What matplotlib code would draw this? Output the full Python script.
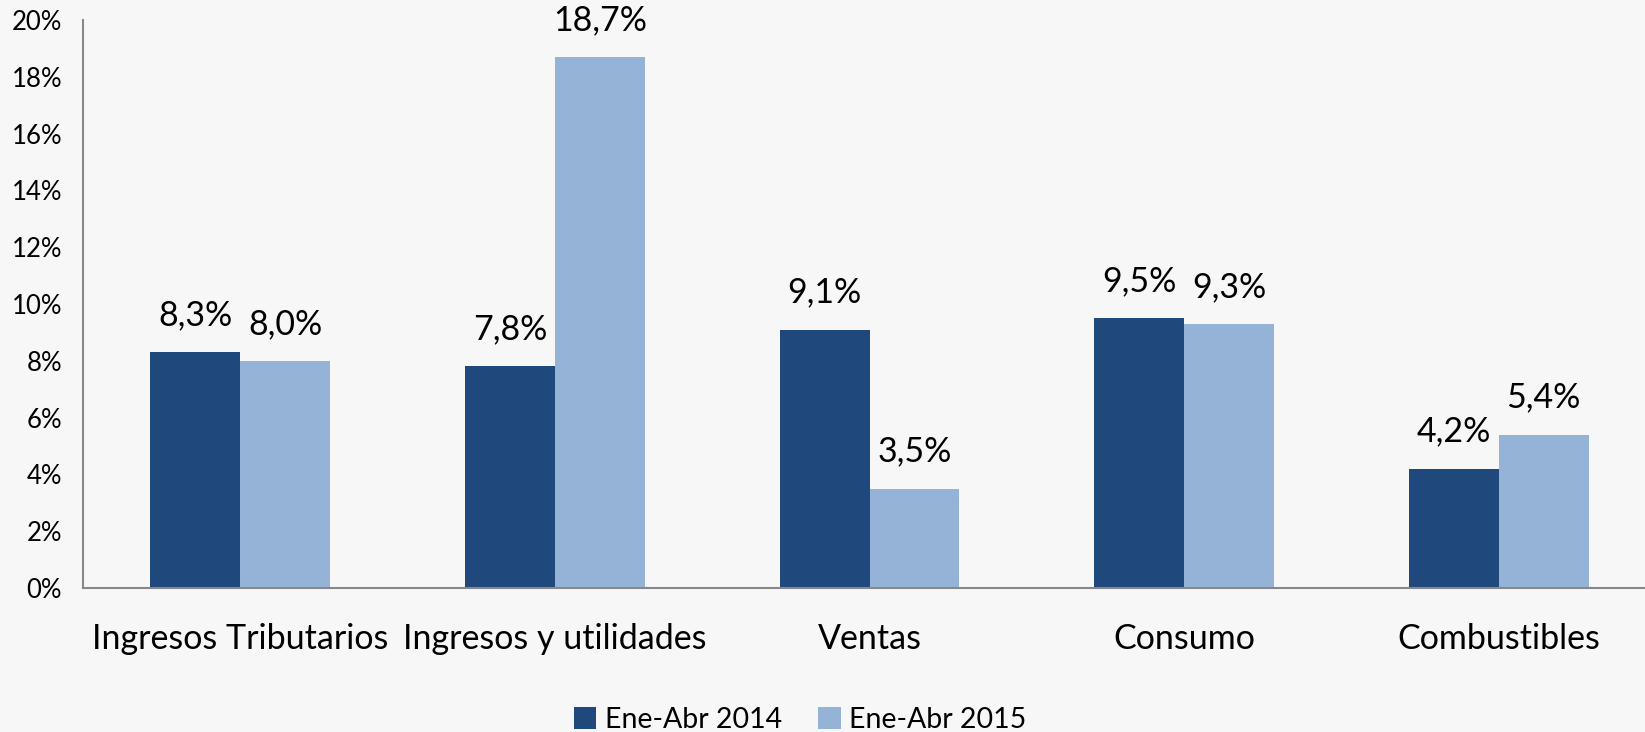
import numpy as np
from matplotlib import pyplot as plt

categorias = ["Ingresos Tributarios", "Ingresos y utilidades", "Ventas", "Consumo", "Combustibles"]
serie_2014 = [8.3, 7.8, 9.1, 9.5, 4.2]
serie_2015 = [8.0, 18.7, 3.5, 9.3, 5.4]
nombres = ["Ene-Abr 2014", "Ene-Abr 2015"]
yticks = list(range(0, 21, 2))


def main():
    plt.rcParams['font.family'] = ['Lato', 'DejaVu Sans']
    fig = plt.figure(figsize=(16.45, 7.32), dpi=100)
    fig.patch.set_facecolor('#f7f7f7')
    # axes runs slightly past the right edge, as in the original
    ax = fig.add_axes([83 / 1645, 1 - 588 / 732, 1573 / 1645, 568 / 732])
    ax.set_facecolor('none')

    x = np.arange(len(categorias))
    w = 0.286
    b1 = ax.bar(x - w / 2, serie_2014, w, color='#1f497d', label=nombres[0])
    b2 = ax.bar(x + w / 2, serie_2015, w, color='#95b3d7', label=nombres[1])

    for bars in (b1, b2):
        for r in bars:
            v = r.get_height()
            ax.annotate(f"{v:.1f}".replace('.', ',') + '%',
                        (r.get_x() + r.get_width() / 2, v),
                        xytext=(0, 37), textcoords='offset pixels',
                        ha='center', va='center', fontsize=24.5, color='black')

    ax.set_xlim(-0.5, 4.5)
    ax.set_ylim(0, 20)
    ax.set_yticks(yticks)
    ax.set_yticklabels([f"{t}%" for t in yticks], fontsize=18.5)
    ax.set_xticks(x)
    ax.set_xticklabels(categorias, fontsize=24.5)
    ax.tick_params(axis='both', length=0)
    ax.tick_params(axis='y', pad=15)
    ax.tick_params(axis='x', pad=25)
    for s in ('top', 'right'):
        ax.spines[s].set_visible(False)
    for s in ('left', 'bottom'):
        ax.spines[s].set_color('#888888')
        ax.spines[s].set_linewidth(1.5)

    fig.legend(loc='center', bbox_to_anchor=(800 / 1645, 1 - 720 / 732),
               ncol=2, frameon=False, fontsize=20.5, handlelength=0.8,
               handleheight=0.8, columnspacing=1.25, handletextpad=0.3)

    fig.savefig("out.png", dpi=100, facecolor=fig.get_facecolor())


if __name__ == '__main__':
    main()
